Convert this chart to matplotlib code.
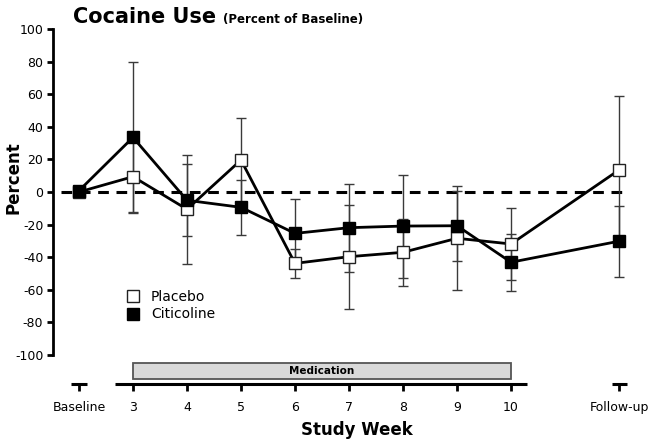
import matplotlib
matplotlib.use("Agg")
import matplotlib.pyplot as plt
from matplotlib.patches import Rectangle
from matplotlib.lines import Line2D
import numpy as np

plt.rcParams['font.family'] = ['DejaVu Sans']

# ---- data ----
week_labels = ["Baseline", "3", "4", "5", "6", "7", "8", "9", "10", "Follow-up"]
week_pos = [2, 3, 4, 5, 6, 7, 8, 9, 10, 12]
placebo = [0.0, 9.4, -10.6, 19.6, -43.8, -39.7, -37.0, -28.4, -31.9, 13.5]
placebo_err = [0.0, 21.5, 33.6, 26.0, 9.0, 32.0, 20.7, 32.0, 22.3, 45.4]
citicoline = [0.8, 33.5, -5.1, -9.4, -25.4, -21.9, -20.9, -20.7, -43.1, -30.2]
citicoline_err = [0.0, 46.5, 22.0, 16.7, 21.0, 27.0, 31.6, 21.5, 17.4, 21.8]
yticks = list(range(-100, 101, 20))
med_start, med_end = 3, 10

W, H = 655, 445
fig = plt.figure(figsize=(W / 100, H / 100), dpi=100)
ax_left, ax_right = 53, 645
ax_top, ax_bottom = 29, 384
ax = fig.add_axes([ax_left / W, 1 - ax_bottom / H, (ax_right - ax_left) / W, (ax_bottom - ax_top) / H])
ax.set_xlim(1.519, 12.481)
ax.set_ylim(-117.8, 100)

ecol = '#3a3a3a'
# error bars (skip baseline)
ax.errorbar(week_pos[1:], placebo[1:], yerr=placebo_err[1:], fmt='none', ecolor=ecol,
            elinewidth=1.0, capsize=3.5, capthick=1.0, zorder=2)
ax.errorbar(week_pos[1:], citicoline[1:], yerr=citicoline_err[1:], fmt='none', ecolor=ecol,
            elinewidth=1.0, capsize=3.5, capthick=1.0, zorder=2)

# zero line
ax.axhline(0, xmin=(1.675 - 1.519) / (12.481 - 1.519), xmax=(12.16 - 1.519) / (12.481 - 1.519),
           color='black', lw=2.2, ls=(0, (3.5, 2.5)), zorder=1)

ax.plot(week_pos, placebo, color='black', lw=2.0, marker='s', markersize=8.5,
        markerfacecolor='white', markeredgecolor='#222222', markeredgewidth=1.0, zorder=3)
ax.plot(week_pos, citicoline, color='black', lw=2.0, marker='s', markersize=8.5,
        markerfacecolor='black', markeredgecolor='black', zorder=4)

# spines
for s in ['top', 'right', 'bottom']:
    ax.spines[s].set_visible(False)
ax.spines['left'].set_bounds(-100, 100)
ax.spines['left'].set_linewidth(2)
ax.set_yticks(yticks)
ax.set_yticklabels([str(v) for v in yticks])
ax.tick_params(axis='y', length=4, width=2, labelsize=9, pad=3)

ax.set_xticks(week_pos)
ax.set_xticklabels(week_labels)
ax.tick_params(axis='x', length=5, width=2, labelsize=9, pad=7)

# broken x-axis segments
xt = ax.get_xaxis_transform()
for a, b in [(1.85, 2.15), (2.67, 10.3), (11.87, 12.15)]:
    ax.plot([a, b], [0, 0], transform=xt, color='black', lw=2.2, clip_on=False,
            solid_capstyle='butt', zorder=5)

# medication bar
ax.add_patch(Rectangle((med_start, -114.7), med_end - med_start, 9.8, facecolor='#d9d9d9',
                       edgecolor='#555555', lw=1.3, zorder=2, clip_on=False))
ax.text((med_start + med_end) / 2, -109.8, "Medication", ha='center', va='center',
        fontsize=7.5, fontweight='bold', zorder=3)

# legend
handles = [Line2D([], [], ls='none', marker='s', markersize=8.5, markerfacecolor='white',
                  markeredgecolor='#222222', markeredgewidth=1.0),
           Line2D([], [], ls='none', marker='s', markersize=8.5, markerfacecolor='black',
                  markeredgecolor='black')]
ax.legend(handles, ["Placebo", "Citicoline"], loc='upper left', frameon=False,
          bbox_to_anchor=((126 - ax_left) / (ax_right - ax_left), 1 - (290 - ax_top) / (ax_bottom - ax_top)),
          fontsize=10, handlelength=1.0, handletextpad=0.8, labelspacing=0.25,
          borderaxespad=0, borderpad=0)

# titles / labels
fig.text(73 / W, 1 - 23 / H, "Cocaine Use", fontsize=15, fontweight='bold', ha='left', va='baseline')
fig.text(223 / W, 1 - 23 / H, "(Percent of Baseline)", fontsize=8.5, fontweight='bold',
         ha='left', va='baseline')
fig.text(13 / W, 1 - 178 / H, "Percent", fontsize=12, fontweight='bold', rotation=90,
         ha='center', va='center')
fig.text(357 / W, 1 - 430 / H, "Study Week", fontsize=12, fontweight='bold', ha='center', va='center')

fig.savefig("out.png", dpi=100)
